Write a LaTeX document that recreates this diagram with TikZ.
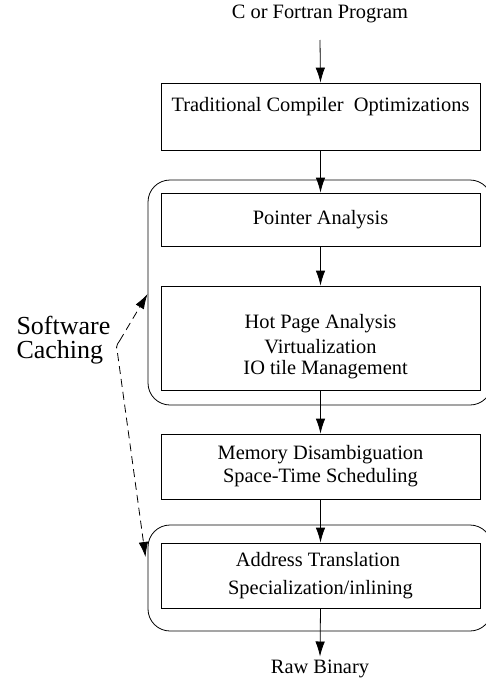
\documentclass[tikz,border=0pt]{standalone}
\usepackage{fontspec}
\setmainfont{Liberation Serif}
\usetikzlibrary{arrows.meta}
\begin{document}
\begin{tikzpicture}[x=1pt,y=-1pt,
  every node/.style={font=\fontsize{20.4}{23}\selectfont},
  stagebox/.style={draw,line width=0.8pt,minimum width=319pt,align=center,inner sep=0pt},
  groupbox/.style={draw,line width=0.8pt,rounded corners=22pt,minimum width=344pt,inner sep=0pt},
  flow/.style={line width=0.8pt,-{Latex[length=15pt,width=9.5pt]}},
  cache/.style={line width=0.8pt,dash pattern=on 8pt off 5pt}
]
\useasboundingbox (0,0) rectangle (486,683);
% groups
\node[groupbox,minimum height=225pt] (g1) at (320,292.5) {};
\node[groupbox,minimum height=106pt] (g2) at (320,578) {};
% text ends
\node (src) at (320,14) {C or Fortran Program};
\node (raw) at (320,669) {Raw Binary};
% stages
\node[stagebox,minimum height=67pt] (trad) at (320.5,116.5) {Traditional Compiler\ \ Optimizations\\[2pt]};
\node[stagebox,minimum height=53pt] (ptr) at (320.5,219.5) {Pointer Analysis};
\node[stagebox,minimum height=104pt] (hot) at (320.5,338) {\\[8pt]Hot Page Analysis\\[2pt]Virtualization\ \ \\[-2pt]\ \ IO tile Management};
\node[stagebox,minimum height=65pt] (mem) at (320.5,466.5) {Memory Disambiguation\\Space-Time Scheduling};
\node[stagebox,minimum height=65pt] (addr) at (320.5,575.5) {Address Translation\ \ \\[5pt]Specialization/inlining};
% flow arrows
\coordinate (srcend) at (320,40);
\draw[flow] (srcend) -- (trad.south |- trad.north);
\draw[flow] (trad.south) -- (ptr.north);
\draw[flow] (ptr.south) -- (hot.north);
\draw[flow] (hot.south) -- (mem.north);
\draw[flow] (mem.south) -- (addr.north);
\draw[flow] (addr.south) -- (raw.north);
% software caching
\node[font=\fontsize{26}{24}\selectfont,align=left,anchor=west] (sc) at (13,340) {Software\\Caching};
\coordinate (t1) at (147.5,294);
\coordinate (t2) at (145.5,557);
\draw[cache,-{Latex[length=15pt,width=9.5pt]}] (119.5,341) .. controls (116,345) and (116,349) .. (117.5,353) -- (t2);
\draw[cache,-{Latex[length=15pt,width=9.5pt]}] (119.5,341) -- (t1);
\end{tikzpicture}
\end{document}
